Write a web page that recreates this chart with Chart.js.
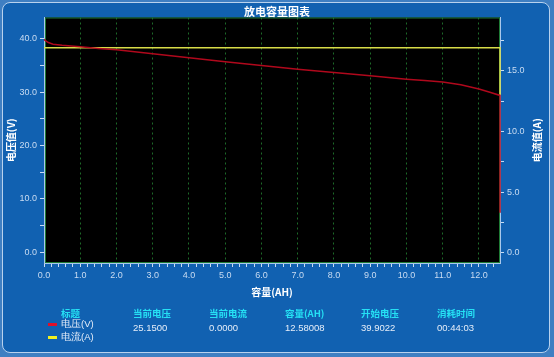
<!DOCTYPE html>
<html>
<head>
<meta charset="utf-8">
<script src="https://cdn.jsdelivr.net/npm/chart.js@4/dist/chart.umd.min.js"></script>
<style>
  html, body { margin: 0; padding: 0; }
  body { width: 554px; height: 357px; background: #3f7fc2; position: relative; overflow: hidden;
         font-family: "Noto Sans CJK SC", "Liberation Sans", sans-serif; }
  #panel { position: absolute; left: 2px; top: 2px; width: 546px; height: 349px;
           background: #1161b1; border: 1px solid #b8d2ee; border-radius: 8px; }
  #chart { position: absolute; left: 0; top: 0; }
  .info { position: absolute; font-size: 9.5px; white-space: nowrap; line-height: 12px; }
  .head { color: #25e0f4; font-weight: bold; }
  .val { color: #e6eef9; font-family: "Liberation Sans", sans-serif; }
  .sw { position: absolute; width: 9px; height: 3px; }
</style>
</head>
<body>
<div id="panel"></div>
<canvas id="chart" width="554" height="357"></canvas>

<div class="info head" style="left:61px; top:307px;">标题</div>
<div class="sw" style="left:48px; top:323px; background:#e0102a;"></div>
<div class="info val" style="left:61px; top:318px;">电压(V)</div>
<div class="sw" style="left:48px; top:336px; background:#f0f020;"></div>
<div class="info val" style="left:61px; top:331px;">电流(A)</div>

<div id="stats"></div>

<script>
//-------------------------DATA------------------------------------------

var capacity = [0, 0.05, 0.12, 0.25, 0.5, 0.75, 1, 1.5, 2, 3, 4, 5, 6, 7, 8, 9, 10, 10.5, 11, 11.5, 12, 12.3, 12.58, 12.58];
var voltage  = [39.9, 39.6, 39.3, 39.0, 38.8, 38.65, 38.5, 38.2, 37.95, 37.2, 36.45, 35.7, 35.0, 34.3, 33.7, 33.1, 32.45, 32.2, 31.9, 31.4, 30.6, 30.0, 29.4, 7.4];

var currentAh = [0, 12.58, 12.58];
var currentA  = [16.9, 16.9, 13.0];

var statNames  = ['当前电压', '当前电流', '容量(AH)', '开始电压', '消耗时间'];
var statValues = ['25.1500', '0.0000', '12.58008', '39.9022', '00:44:03'];

//-------------------------STATS UNDER THE CHART-------------------------

var statLeft = [133, 209, 285, 361, 437];
var stats = document.getElementById('stats');
for (let i = 0; i < statNames.length; i++) {
    let h = document.createElement('div');
    h.className = 'info head';
    h.style.left = statLeft[i] + 'px';
    h.style.top = '307px';
    h.textContent = statNames[i];
    stats.appendChild(h);
    let v = document.createElement('div');
    v.className = 'info val';
    v.style.left = statLeft[i] + 'px';
    v.style.top = '322px';
    v.textContent = statValues[i];
    stats.appendChild(v);
}

//-------------------------CHART----------------------------------------

function pairs(xs, ys) {
    var out = [];
    for (let i = 0; i < xs.length; i++) out.push({x: xs[i], y: ys[i]});
    return out;
}

function isWhole(v, step) {
    var q = v / step;
    return Math.abs(q - Math.round(q)) < 1e-6;
}

var tickColor = '#c9dcf2';
var axisColor = '#a9c8ec';
var tickFont = {family: 'Liberation Sans', size: 9};

var plotFrame = {                           // black plot, green frame, right axis title
    id: 'plotFrame',
    beforeDraw(chart) {
        var a = chart.chartArea, c = chart.ctx;
        c.save();
        c.fillStyle = '#000000';
        c.fillRect(a.left, a.top, a.right - a.left, a.bottom - a.top);
        c.restore();
    },
    beforeDatasetsDraw(chart) {
        var a = chart.chartArea, c = chart.ctx;
        c.save();
        c.strokeStyle = '#1f7a34';
        c.lineWidth = 1;
        c.strokeRect(a.left + 1.5, a.top + 0.5, a.right - a.left - 2, a.bottom - a.top - 1);
        c.restore();
    },
    afterDraw(chart) {
        var a = chart.chartArea, c = chart.ctx;
        c.save();
        c.translate(537, (a.top + a.bottom) / 2);
        c.rotate(-Math.PI / 2);
        c.fillStyle = '#ffffff';
        c.font = 'bold 10px "Noto Sans CJK SC"';
        c.textAlign = 'center';
        c.textBaseline = 'middle';
        c.fillText('电流值(A)', 0, 0);
        c.restore();
    }
};

var ctx = document.getElementById('chart').getContext('2d');
var chart = new Chart(ctx, {
    type: 'line',
    data: {
        datasets: [{
            label: '电压(V)',
            data: pairs(capacity, voltage),
            borderColor: '#b0081c',
            borderWidth: 1.5,
            pointRadius: 0,
            clip: {left: 0, top: 0, right: 2, bottom: 0},
            yAxisID: 'y'
        }, {
            label: '电流(A)',
            data: pairs(currentAh, currentA),
            borderColor: '#d8dc48',
            borderWidth: 1.5,
            pointRadius: 0,
            clip: {left: 0, top: 0, right: 2, bottom: 0},
            yAxisID: 'y1'
        }]
    },
    options: {
        responsive: false,
        animation: false,
        layout: {padding: 0},
        plugins: {
            legend: {display: false},
            tooltip: {enabled: false},
            title: {
                display: true,
                text: '放电容量图表',
                color: '#ffffff',
                font: {family: 'Noto Sans CJK SC', size: 11, weight: 'bold', lineHeight: 1},
                padding: {top: 6.5, bottom: 0}
            }
        },
        scales: {
            x: {
                type: 'linear',
                min: 0,
                max: 12.58,
                afterFit(s) { s.height = 94; },
                border: {color: axisColor, dash: [2, 3]},
                grid: {
                    color: (c) => (c.tick && isWhole(c.tick.value, 1) && c.tick.value > 0) ? '#1d6a28' : 'rgba(0,0,0,0)',
                    tickColor: tickColor,
                    tickLength: 4,
                    tickBorderDash: [],
                    lineWidth: 1
                },
                ticks: {
                    stepSize: 0.2,
                    includeBounds: false,
                    autoSkip: false,
                    maxRotation: 0,
                    padding: 3,
                    color: tickColor,
                    font: tickFont,
                    callback: (v) => isWhole(v, 1) ? Number(v).toFixed(1) : ''
                },
                title: {
                    display: true,
                    text: '容量(AH)',
                    color: '#ffffff',
                    font: {family: 'Noto Sans CJK SC', size: 10, weight: 'bold', lineHeight: 1.2},
                    padding: {top: 4, bottom: 59}
                }
            },
            y: {
                type: 'linear',
                position: 'left',
                min: -2,
                max: 44,
                afterFit(s) { s.width = 44; },
                border: {color: axisColor},
                grid: {drawOnChartArea: false, tickColor: tickColor, tickLength: 4},
                ticks: {
                    stepSize: 5,
                    includeBounds: false,
                    autoSkip: false,
                    padding: 3,
                    color: tickColor,
                    font: tickFont,
                    callback: (v) => isWhole(v, 10) ? Number(v).toFixed(1) : ''
                },
                title: {
                    display: true,
                    text: '电压值(V)',
                    color: '#ffffff',
                    font: {family: 'Noto Sans CJK SC', size: 10, weight: 'bold', lineHeight: 1.2},
                    padding: {top: 5}
                }
            },
            y1: {
                type: 'linear',
                position: 'right',
                min: -0.85,
                max: 19.4,
                afterFit(s) { s.width = 54; },
                border: {color: axisColor},
                grid: {drawOnChartArea: false, tickColor: tickColor, tickLength: 4},
                ticks: {
                    stepSize: 2.5,
                    includeBounds: false,
                    autoSkip: false,
                    padding: 3,
                    color: tickColor,
                    font: tickFont,
                    callback: (v) => isWhole(v, 5) ? Number(v).toFixed(1) : ''
                }
            }
        }
    },
    plugins: [plotFrame]
});
</script>
</body>
</html>
